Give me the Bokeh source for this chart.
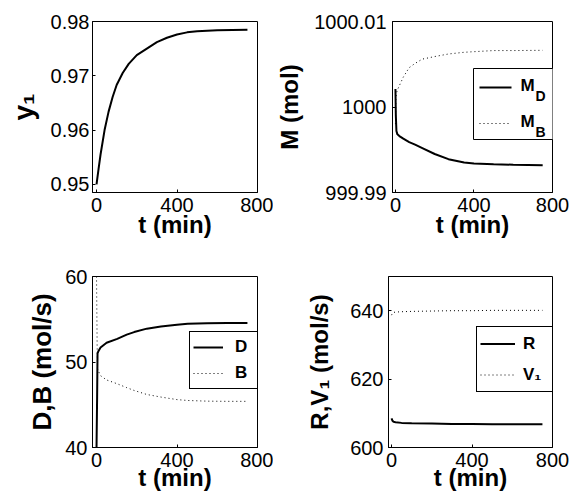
from bokeh.plotting import figure
from bokeh.layouts import column, row
from bokeh.models import (Range1d, FixedTicker, LinearAxis, Legend, LegendItem, Label,
                          Arrow, BoxAnnotation)
from bokeh.embed import file_html
from bokeh.resources import INLINE

FONT = "Liberation Sans"

# ---------------- data ----------------
t_y1 = [0, 10, 20, 40, 60, 80, 100, 130, 160, 200, 250, 300, 350, 400, 450, 500, 600, 750]
y1 = [0.9500, 0.9528, 0.9555, 0.9600, 0.9634, 0.9661, 0.9683, 0.9705, 0.9722, 0.9738,
      0.9750, 0.9762, 0.9770, 0.9776, 0.9780, 0.9782, 0.9784, 0.9785]

t_M = [0, 2, 5, 10, 20, 40, 70, 100, 137, 200, 270, 350, 400, 500, 600, 750]
M_D = [1000.0021, 999.9990, 999.9972, 999.9968, 999.9966, 999.9963, 999.9959, 999.9956,
       999.9952, 999.9945, 999.9939, 999.9935, 999.9934, 999.9933, 999.99325, 999.9932]
M_B = [999.9980, 1000.0008, 1000.0016, 1000.0020, 1000.0025, 1000.0035, 1000.0046, 1000.0051,
       1000.0056, 1000.0059, 1000.0062, 1000.0064, 1000.00647, 1000.0066, 1000.0066, 1000.00663]

t_DB = [0, 3, 5, 10, 20, 50, 103, 150, 187, 250, 320, 400, 453, 550, 650, 750]
D = [40.0, 46.0, 51.0, 51.3, 51.7, 52.25, 52.7, 53.2, 53.5, 53.9, 54.15, 54.35, 54.47, 54.53, 54.55, 54.56]
B = [60.0, 52.0, 49.2, 48.9, 48.4, 47.9, 47.45, 47.0, 46.67, 46.2, 45.9, 45.6, 45.5, 45.42, 45.4, 45.4]

t_RV = [0, 5, 10, 20, 50, 100, 200, 300, 400, 500, 600, 750]
R = [608.5, 607.8, 607.5, 607.4, 607.2, 607.1, 607.0, 606.9, 606.85, 606.8, 606.8, 606.8]
V1 = [638.7, 639.3, 639.5, 639.6, 639.7, 639.8, 639.9, 640.0, 640.0, 640.1, 640.1, 640.1]

x_ticks = [0, 400, 800]
x_tick_labels = ["0", "400", "800"]
y1_ticks = [0.95, 0.96, 0.97, 0.98]
y1_tick_labels = ["0.95", "0.96", "0.97", "0.98"]
M_ticks = [999.99, 1000.0, 1000.01]
M_tick_labels = ["999.99", "1000", "1000.01"]
DB_ticks = [40, 50, 60]
DB_tick_labels = ["40", "50", "60"]
RV_ticks = [600, 620, 640]
RV_tick_labels = ["600", "620", "640"]

x_label = "t (min)"
y_labels = ["y\u2081", "M (mol)", "D,B (mol/s)", "R,V\u2081 (mol/s)"]
M_legend_main = ["M", "M"]
M_legend_sub = ["D", "B"]


def style_axis(ax, ticks, labels, label_size="24px"):
    ax.ticker = FixedTicker(ticks=ticks)
    ax.major_tick_in = 3
    ax.major_tick_out = 0
    ax.minor_tick_line_color = None
    ax.axis_line_color = "black"
    ax.major_tick_line_color = "black"
    ax.major_label_text_font = FONT
    ax.major_label_text_color = "black"
    ax.major_label_text_font_size = "20px"
    ax.major_label_overrides = {v: s for v, s in zip(ticks, labels)}
    ax.axis_label_text_font = FONT
    ax.axis_label_text_font_size = label_size
    ax.axis_label_text_font_style = "bold"
    ax.axis_label_text_color = "black"


def make_fig(width, height, bl, br, bt, bb, xr, yr, yticks, ylabels, ylabel,
             y_std, y_lab_std, x_lab_std, ylab_size="24px"):
    p = figure(width=width, height=height, output_backend="svg", toolbar_location=None,
               x_range=Range1d(*xr), y_range=Range1d(*yr),
               x_axis_type=None, y_axis_type=None,
               min_border_left=bl, min_border_right=br, min_border_top=bt, min_border_bottom=bb)
    p.outline_line_color = "black"
    p.outline_line_alpha = 1
    p.outline_line_width = 1
    p.background_fill_color = "white"
    p.border_fill_color = "white"

    xb = LinearAxis()
    style_axis(xb, x_ticks, x_tick_labels)
    xb.major_label_standoff = 5
    xb.axis_label = x_label
    xb.axis_label_standoff = x_lab_std
    p.add_layout(xb, "below")

    yl = LinearAxis()
    style_axis(yl, yticks, ylabels, ylab_size)
    yl.major_label_standoff = y_std
    yl.axis_label = ylabel
    yl.axis_label_standoff = y_lab_std
    p.add_layout(yl, "left")
    return p


def make_legend(items, loc, padding, spacing, gw, gh, lw, standoff):
    return Legend(items=items, location=loc, padding=padding, spacing=spacing,
                  glyph_width=gw, glyph_height=gh, label_height=gh, label_width=lw,
                  label_standoff=standoff, margin=0,
                  border_line_color="black", border_line_width=1, border_line_alpha=1,
                  background_fill_color="white", background_fill_alpha=1,
                  label_text_font=FONT, label_text_font_size="17px",
                  label_text_font_style="bold", label_text_color="black")


def screen_label(p, x, y, text, size, align="left"):
    p.add_layout(Label(x=x, y=y, x_units="screen", y_units="screen", text=text,
                       text_font=FONT, text_font_size=size, text_font_style="bold",
                       text_color="black", text_baseline="alphabetic", text_align=align,
                       level="overlay"))


W1, W2 = 273, 296
H1, H2 = 250, 246
XR1 = (-20, 800)
XR2 = (-15, 800)

# --- panel 1 ---
p1 = make_fig(W1, H1, 92, 16, 21, 58, XR1, (0.9485, 0.98), y1_ticks, y1_tick_labels,
              y_labels[0], 3, 9, -4, "28px")
p1.line(t_y1, y1, line_color="black", line_width=2)

# --- panel 2 ---
p2 = make_fig(W2, H1, 115, 17, 21, 58, XR2, (999.99, 1000.01), M_ticks, M_tick_labels,
              y_labels[1], 6, 8, -4)
p2.line(t_M, M_D, line_color="black", line_width=2)
p2.line(t_M, M_B, line_color="black", line_width=1, line_dash="1 3")
# legend with subscripted labels, drawn in screen units (relative to the plot frame)
p2.add_layout(BoxAnnotation(left=81, right=164, bottom=53, top=124,
                            left_units="screen", right_units="screen",
                            bottom_units="screen", top_units="screen",
                            fill_color="white", fill_alpha=1,
                            line_color="black", line_width=1, line_alpha=1, level="overlay"))
for yy, lw, dash in ((105, 2, "solid"), (69, 1, "1 3")):
    p2.add_layout(Arrow(x_start=87, y_start=yy, x_end=119, y_end=yy,
                        start_units="screen", end_units="screen", start=None, end=None,
                        line_color="black", line_width=lw, line_dash=dash, level="overlay"))
for main, sub, yy in zip(M_legend_main, M_legend_sub, (107, 71)):
    screen_label(p2, 128, yy, main, "17px")
    screen_label(p2, 143, yy - 10, sub, "14px")

# --- panel 3 ---
p3 = make_fig(W1, H2, 92, 16, 26, 49, XR1, (40, 60), DB_ticks, DB_tick_labels,
              y_labels[2], 5, 5, -6, "26px")
rD = p3.line(t_DB, D, line_color="black", line_width=2)
rB = p3.line(t_DB, B, line_color="black", line_width=1, line_dash="1 3")
p3.add_layout(make_legend([LegendItem(label="D", renderers=[rD]),
                           LegendItem(label="B", renderers=[rB])],
                          (97, 58), 3, 2, 30, 24, 19, 12))

# --- panel 4 ---
p4 = make_fig(W2, H2, 115, 17, 26, 49, XR2, (600, 650), RV_ticks, RV_tick_labels,
              y_labels[3], 5, 14, -6)
rR = p4.line(t_RV, R, line_color="black", line_width=2)
rV = p4.line(t_RV, V1, line_color="black", line_width=1, line_dash="1 3")
p4.add_layout(make_legend([LegendItem(label="R", renderers=[rR]),
                           LegendItem(label="V\u2081", renderers=[rV])],
                          (88, 55), 3, 4, 35, 27, 27, 8))

layout = column(row(p1, p2), row(p3, p4))
open("out.html", "w").write(file_html(layout, INLINE))
